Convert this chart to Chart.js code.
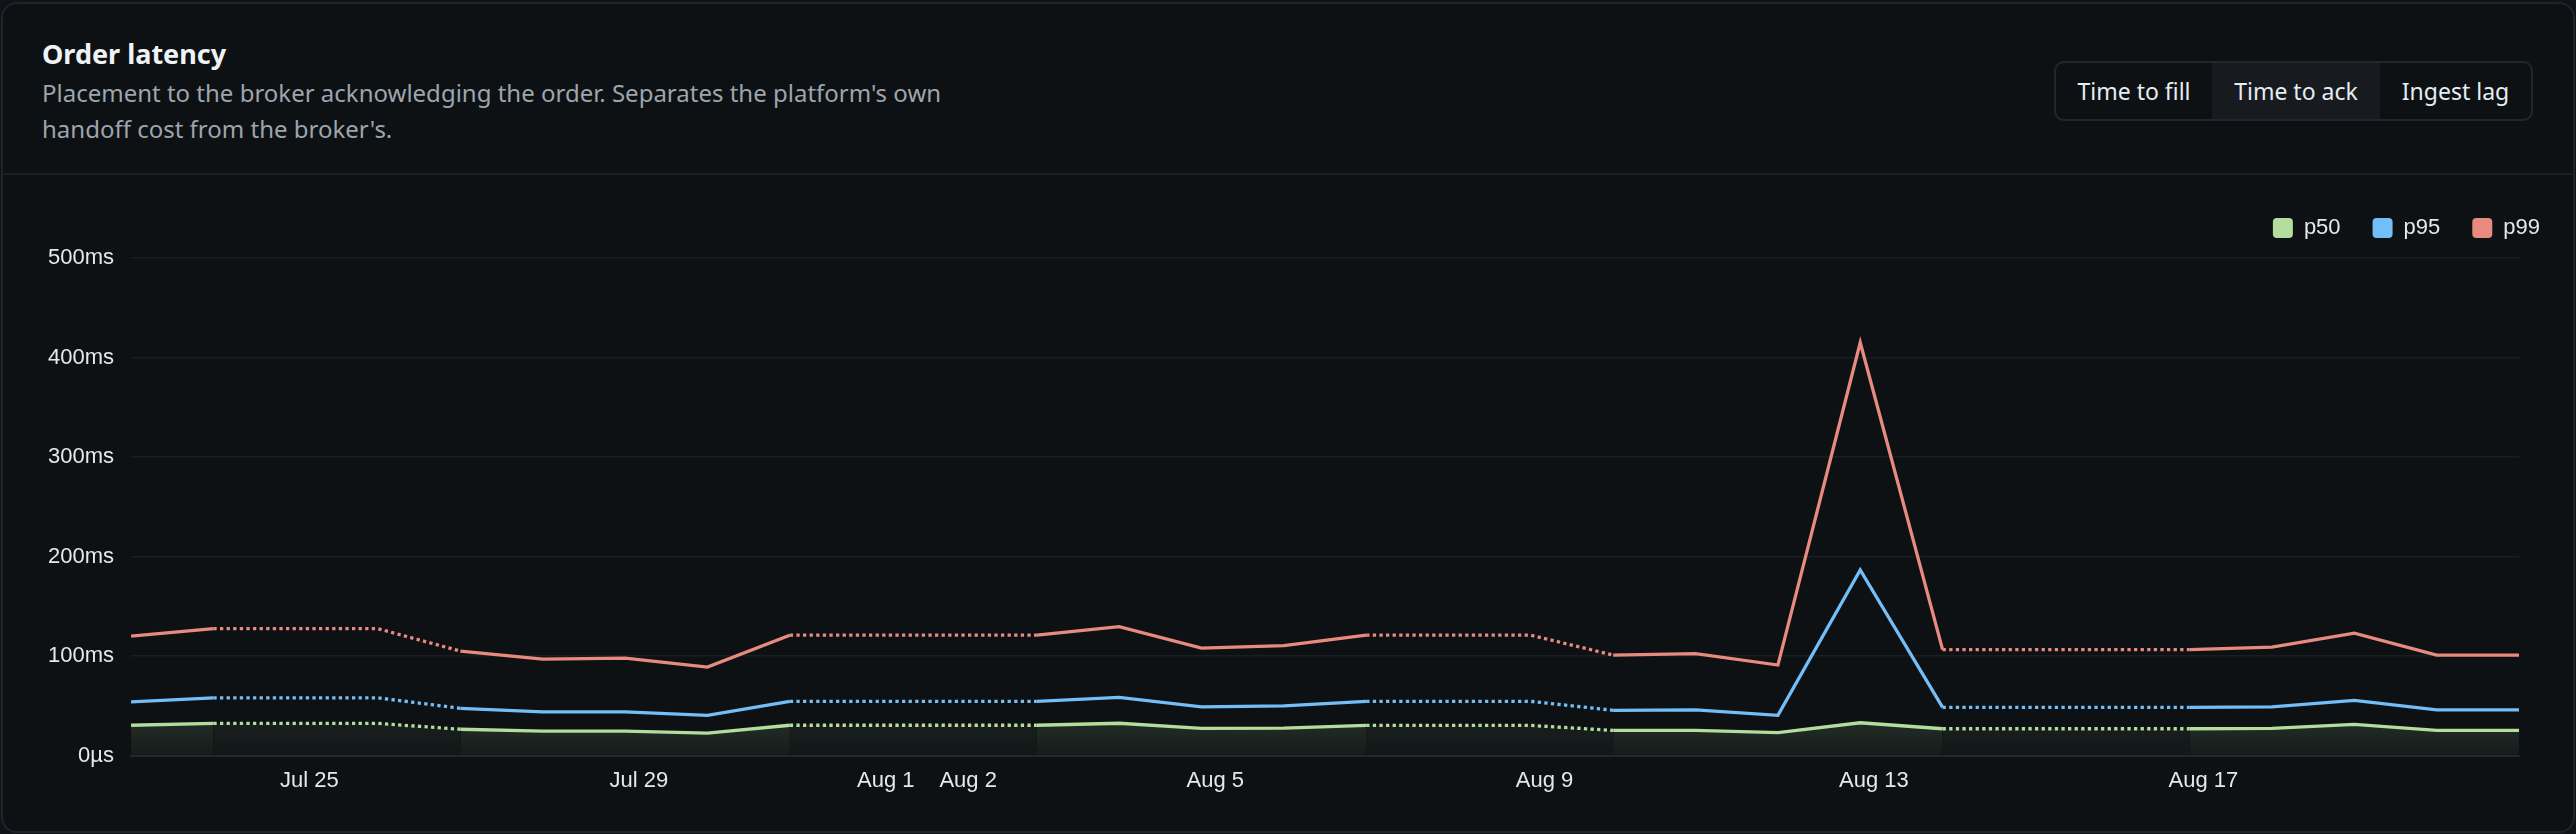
<!DOCTYPE html>
<html>
<head>
<meta charset="utf-8">
<script src="https://cdn.jsdelivr.net/npm/chart.js@4/dist/chart.umd.min.js"></script>
<style>
  html, body { margin: 0; padding: 0; }
  body {
    width: 2576px; height: 834px; overflow: hidden;
    background: #101418; position: relative;
    font-family: "Noto Sans", sans-serif;
  }
  .card {
    position: absolute; left: 1px; top: 2px; right: 1px; bottom: 1px;
    border: 2px solid #1f2429; border-radius: 16px; background: #0d1114;
  }
  .title {
    position: absolute; left: 42px; top: 37px;
    font-size: 27px; font-weight: 700; line-height: 34px; color: #f0f3f6;
  }
  .desc {
    position: absolute; left: 42px; top: 75px; width: 960px;
    font-size: 24px; line-height: 36px; color: #9ea5ad;
  }
  .divider {
    position: absolute; left: 3px; right: 3px; top: 173px; height: 2px; background: #1b2025;
  }
  .toggle {
    position: absolute; left: 2054px; top: 61px; height: 60px; box-sizing: border-box;
    border: 2px solid #22272d; border-radius: 10px; display: flex; overflow: hidden;
  }
  .toggle div {
    display: flex; align-items: center; justify-content: center;
    font-size: 23px; color: #e6edf3;
  }
  .toggle .active { background: #171b20; }
  #wrap { position: absolute; left: 11px; top: 176px; width: 2561px; height: 636px; }
</style>
</head>
<body>
<div class="card"></div>
<div class="title">Order latency</div>
<div class="desc">Placement to the broker acknowledging the order. Separates the platform's own handoff cost from the broker's.</div>
<div class="toggle">
  <div style="width:156px">Time to fill</div>
  <div class="active" style="width:168px">Time to ack</div>
  <div style="width:151px">Ingest lag</div>
</div>
<div class="divider"></div>
<div id="wrap"><canvas id="latencyChart"></canvas></div>

<script>
// one point per UTC day, drawn in local time (UTC-4)
const days = [
  "2026-07-23", "2026-07-24", "2026-07-25", "2026-07-26", "2026-07-27", "2026-07-28",
  "2026-07-29", "2026-07-30", "2026-07-31", "2026-08-01", "2026-08-02", "2026-08-03",
  "2026-08-04", "2026-08-05", "2026-08-06", "2026-08-07", "2026-08-08", "2026-08-09",
  "2026-08-10", "2026-08-11", "2026-08-12", "2026-08-13", "2026-08-14", "2026-08-15",
  "2026-08-16", "2026-08-17", "2026-08-18", "2026-08-19", "2026-08-20", "2026-08-21"
];

// weekend days carry Friday's value forward, drawn dotted
const carriedDays = [
  "2026-07-25", "2026-07-26", "2026-08-01", "2026-08-02",
  "2026-08-08", "2026-08-09", "2026-08-15", "2026-08-16"
];

// milliseconds
const p50 = [30.5, 32.3, 32.3, 32.3, 26.5, 24.5, 24.5, 22.5, 30.5, 30.5, 30.5, 30.5, 32.5, 27.3, 27.6,
  30.3, 30.3, 30.3, 25.3, 25.3, 23, 33, 27, 27, 27, 27, 27.3, 31.3, 25.3, 25.3];
const p95 = [54, 58, 58, 58, 47.5, 44, 44, 40.5, 54.5, 54.5, 54.5, 54.5, 58.5, 49, 50,
  54.5, 54.5, 54.5, 45.5, 46, 40.5, 186.5, 48.5, 48.5, 48.5, 48.5, 49, 55.5, 46, 46];
const p99 = [120, 127.5, 127.5, 127.5, 105, 97, 98, 89, 121, 121, 121, 121, 129.5, 108, 110.5,
  121, 121, 121, 101, 102.5, 91, 415, 106.5, 106.5, 106.5, 106.5, 109, 123, 101, 101];

// x tick labels at local midnight
const tickDays = ["2026-07-25", "2026-07-29", "2026-08-01", "2026-08-02", "2026-08-05", "2026-08-09", "2026-08-13", "2026-08-17"];
const tickLabels = ["Jul 25", "Jul 29", "Aug 1", "Aug 2", "Aug 5", "Aug 9", "Aug 13", "Aug 17"];

const yTicks = [0, 100, 200, 300, 400, 500];

const xs = days.map(d => Date.parse(d + "T00:00:00Z"));
const tickXs = tickDays.map(d => Date.parse(d + "T00:00:00-04:00"));
const carried = days.map(d => carriedDays.includes(d));

const toPoints = values => values.map((v, i) => ({ x: xs[i], y: v }));
const isDotted = ctx => carried[ctx.p0DataIndex] || carried[ctx.p1DataIndex];

let fillSolid = "rgba(178, 221, 156, 0.1)";
let fillCarried = "rgba(178, 221, 156, 0.05)";

const fillGradient = {
  id: "fillGradient",
  afterLayout(chart) {
    const { ctx, scales } = chart;
    const top = scales.y.getPixelForValue(35);
    const bottom = scales.y.getPixelForValue(0);
    const g1 = ctx.createLinearGradient(0, top, 0, bottom);
    g1.addColorStop(0, "rgba(178, 221, 156, 0.14)");
    g1.addColorStop(1, "rgba(178, 221, 156, 0.05)");
    const g2 = ctx.createLinearGradient(0, top, 0, bottom);
    g2.addColorStop(0, "rgba(178, 221, 156, 0.075)");
    g2.addColorStop(1, "rgba(178, 221, 156, 0.03)");
    fillSolid = g1;
    fillCarried = g2;
  }
};

// a bit more room between the legend and the plot
const legendGap = {
  id: "legendGap",
  beforeLayout(chart) {
    const legend = chart.legend;
    if (legend && !legend.gapAdded) {
      const fit = legend.fit;
      legend.fit = function () {
        fit.call(this);
        this.height += 9;
      };
      legend.gapAdded = true;
    }
  }
};

function series(label, values, color, filled) {
  return {
    label: label,
    data: toPoints(values),
    borderColor: color,
    backgroundColor: filled ? () => fillSolid : color,
    fill: filled ? "origin" : false,
    borderWidth: 3.3,
    pointRadius: 0,
    tension: 0,
    segment: {
      borderDash: ctx => (isDotted(ctx) ? [3.3, 3.3] : undefined),
      backgroundColor: ctx => (filled ? (isDotted(ctx) ? fillCarried : fillSolid) : undefined)
    }
  };
}

Chart.defaults.font.size = 22;
Chart.defaults.color = "#e6e9ec";

const config = {
  type: "line",
  data: {
    datasets: [
      series("p50", p50, "#b2dd9c", true),
      series("p95", p95, "#72bef8", false),
      series("p99", p99, "#e88a80", false)
    ]
  },
  options: {
    responsive: true,
    maintainAspectRatio: false,
    animation: false,
    layout: { padding: { top: 9, left: 20, right: 0, bottom: 6 } },
    plugins: {
      tooltip: { enabled: false },
      legend: {
        position: "top",
        align: "end",
        labels: {
          boxWidth: 20,
          boxHeight: 20,
          useBorderRadius: true,
          borderRadius: 4,
          padding: 32,
          color: "#e6e9ec",
          generateLabels(chart) {
            return Chart.defaults.plugins.legend.labels.generateLabels(chart).map(item => ({
              ...item,
              fillStyle: item.strokeStyle,
              lineWidth: 0,
              lineDash: []
            }));
          }
        }
      }
    },
    scales: {
      x: {
        type: "linear",
        min: xs[0],
        max: xs[xs.length - 1],
        grid: { display: false, drawTicks: false },
        border: { color: "#23272c", width: 2 },
        afterBuildTicks(scale) {
          scale.ticks = tickXs.map(v => ({ value: v }));
        },
        afterFit(scale) {
          scale.paddingRight = 53;
        },
        ticks: {
          autoSkip: false,
          maxRotation: 0,
          padding: 12,
          callback: (value, index) => tickLabels[index]
        }
      },
      y: {
        min: 0,
        max: 500,
        afterBuildTicks(scale) {
          scale.ticks = yTicks.map(v => ({ value: v }));
        },
        grid: { color: "#1a1e22", lineWidth: 1.6, drawTicks: false },
        border: { display: false },
        ticks: {
          padding: 17,
          callback: value => (value === 0 ? "0µs" : value + "ms")
        }
      }
    }
  },
  plugins: [fillGradient, legendGap]
};

const latencyChart = new Chart(document.getElementById("latencyChart"), config);
</script>
</body>
</html>
